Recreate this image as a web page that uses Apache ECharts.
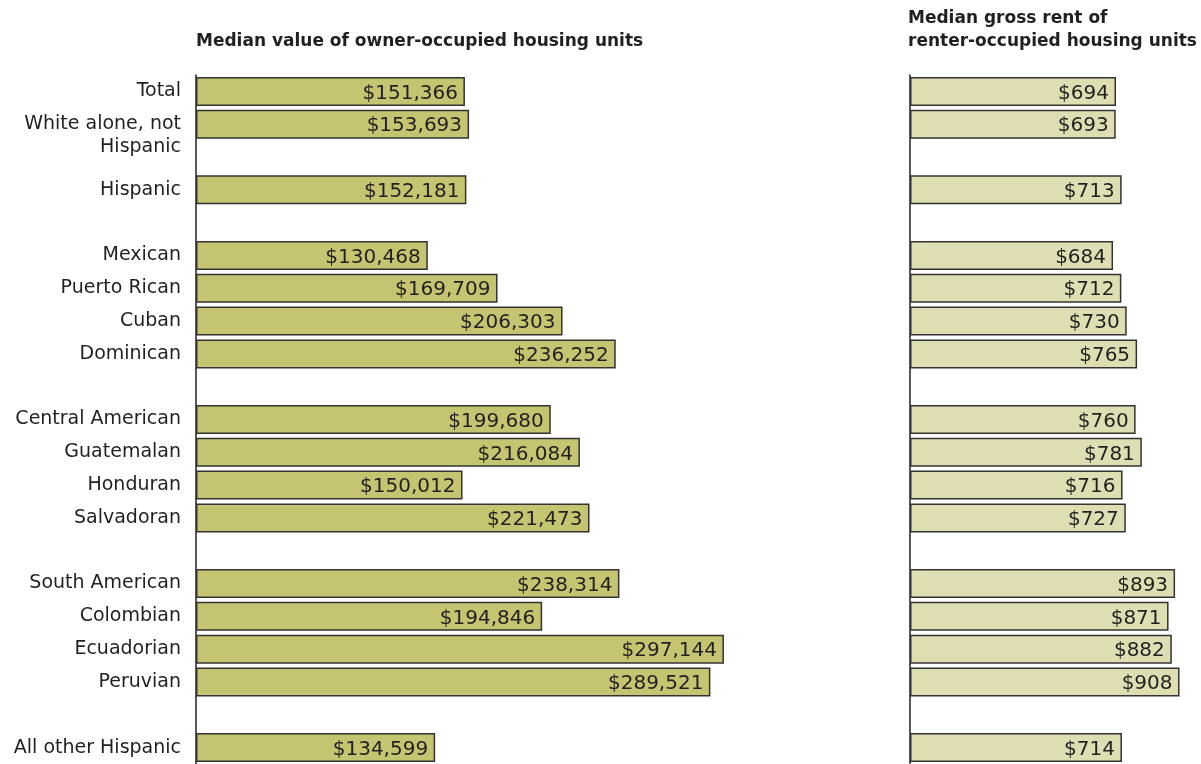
<!DOCTYPE html>
<html><head><meta charset="utf-8">
<script src="https://cdn.jsdelivr.net/npm/echarts@6/dist/echarts.min.js"></script>
<style>html,body{margin:0;padding:0;background:#fff}#c{width:1201px;height:764px}</style>
</head><body><div id="c"></div>
<script>
const categories = ['Total','White alone, not\nHispanic','','Hispanic','','Mexican','Puerto Rican','Cuban','Dominican','','Central American','Guatemalan','Honduran','Salvadoran','','South American','Colombian','Ecuadorian','Peruvian','','All other Hispanic'];
const ownerValue = [151366,153693,null,152181,null,130468,169709,206303,236252,null,199680,216084,150012,221473,null,238314,194846,297144,289521,null,134599];
const grossRent = [694,693,null,713,null,684,712,730,765,null,760,781,716,727,null,893,871,882,908,null,714];
const leftTitle = 'Median value of owner-occupied housing units';
const rightTitle = 'Median gross rent of\nrenter-occupied housing units';

const FONT = '"DejaVu Sans", sans-serif';
const fmt = v => '$' + v.toLocaleString('en-US');

const chart = echarts.init(document.getElementById('c'), null, {renderer: 'canvas'});
const topY = 75, h = 689.5;
const txt = '#231f20';
chart.setOption({
  backgroundColor: '#fff',
  animation: false,
  title: [
    {text: leftTitle, left: 191, top: 28, textStyle: {fontFamily: FONT, fontWeight: 'bold', fontSize: 17, color: txt}},
    {text: rightTitle, left: 903, top: 2, textStyle: {fontFamily: FONT, fontWeight: 'bold', fontSize: 17, color: txt, lineHeight: 23}}
  ],
  grid: [
    {left: 196, top: topY, width: 533, height: h},
    {left: 910, top: topY, width: 282, height: h}
  ],
  xAxis: [
    {gridIndex: 0, type: 'value', min: 0, max: 300000, show: false},
    {gridIndex: 1, type: 'value', min: 0, max: 950, show: false}
  ],
  yAxis: [
    {gridIndex: 0, type: 'category', inverse: true, data: categories,
     axisLine: {show: true, lineStyle: {color: txt, width: 1.5}},
     axisTick: {show: false}, splitLine: {show: false},
     axisLabel: {fontFamily: FONT, fontSize: 19, color: txt, margin: 15, lineHeight: 23, interval: 0,
                 formatter: v => v.indexOf('\n') >= 0 ? '\n' + v : v}},
    {gridIndex: 1, type: 'category', inverse: true, data: categories,
     axisLine: {show: true, lineStyle: {color: txt, width: 1.5}},
     axisTick: {show: false}, splitLine: {show: false}, axisLabel: {show: false}}
  ],
  series: [
    {type: 'bar', xAxisIndex: 0, yAxisIndex: 0, data: ownerValue, barWidth: 29,
     itemStyle: {color: '#c5c471', borderColor: '#333', borderWidth: 1.5},
     label: {show: true, position: 'insideRight', distance: 7, offset: [0, 2], formatter: p => fmt(p.value),
             fontFamily: FONT, fontSize: 20, color: txt}},
    {type: 'bar', xAxisIndex: 1, yAxisIndex: 1, data: grossRent, barWidth: 29,
     itemStyle: {color: '#dfdeb2', borderColor: '#333', borderWidth: 1.5},
     label: {show: true, position: 'insideRight', distance: 7, offset: [0, 2], formatter: p => fmt(p.value),
             fontFamily: FONT, fontSize: 20, color: txt}}
  ]
});
</script></body></html>
